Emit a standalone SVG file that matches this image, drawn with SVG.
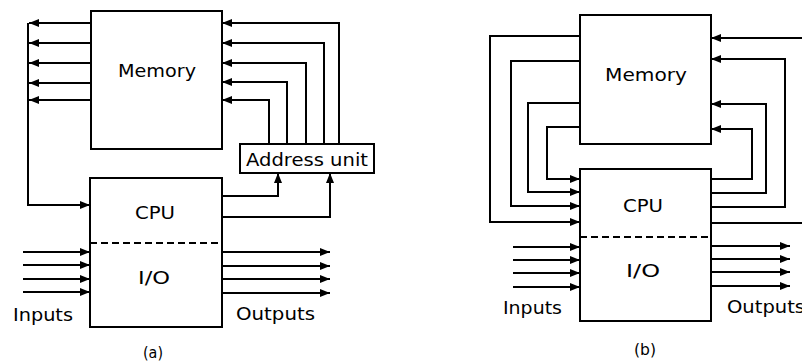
<svg xmlns="http://www.w3.org/2000/svg" width="802" height="364" viewBox="0 0 802 364">
<style>
.box{fill:#fff;stroke:#000;stroke-width:2}
.dash{stroke:#000;stroke-width:2;stroke-dasharray:7 4;fill:none}
.c path{fill:none;stroke:#000;stroke-width:2}
.c .a{marker-end:url(#ah)}
text{font-family:"DejaVu Sans","Liberation Sans",sans-serif;font-size:17px;fill:#000}
.cap{font-size:15px}
</style>
<defs>
<marker id="ah" viewBox="0 0 10 8" refX="10" refY="4" markerWidth="10" markerHeight="8" markerUnits="userSpaceOnUse" orient="auto">
<path d="M0,0 L10,4 L0,8 z" fill="#000"/>
</marker>
</defs>
<g id="a-memory"><rect class="box" x="91" y="11" width="131" height="138"/><text x="118" y="77" textLength="78" lengthAdjust="spacingAndGlyphs">Memory</text></g>
<g id="a-cpu"><rect class="box" x="90" y="178" width="132" height="149"/><line class="dash" x1="90" y1="243" x2="222" y2="243"/><text x="135" y="219" textLength="40" lengthAdjust="spacingAndGlyphs">CPU</text><text x="138" y="284" textLength="32" lengthAdjust="spacingAndGlyphs">I/O</text></g>
<g id="a-address"><rect class="box" x="240" y="144" width="134" height="29"/><text x="246" y="166" textLength="122" lengthAdjust="spacingAndGlyphs">Address unit</text></g>
<g id="a-labels"><text x="13" y="321" textLength="60" lengthAdjust="spacingAndGlyphs">Inputs</text><text x="236" y="320" textLength="79" lengthAdjust="spacingAndGlyphs">Outputs</text><text class="cap" x="143" y="358" textLength="20" lengthAdjust="spacingAndGlyphs">(a)</text></g>
<g id="b-memory"><rect class="box" x="580" y="15" width="131" height="129"/><text x="605" y="81" textLength="82" lengthAdjust="spacingAndGlyphs">Memory</text></g>
<g id="b-cpu"><rect class="box" x="580" y="169" width="131" height="152"/><line class="dash" x1="580" y1="237" x2="711" y2="237"/><text x="623" y="212" textLength="40" lengthAdjust="spacingAndGlyphs">CPU</text><text x="626" y="277" textLength="34" lengthAdjust="spacingAndGlyphs">I/O</text></g>
<g id="b-labels"><text x="503" y="314" textLength="59" lengthAdjust="spacingAndGlyphs">Inputs</text><text x="727" y="313" textLength="78" lengthAdjust="spacingAndGlyphs">Outputs</text><text class="cap" x="634" y="355" textLength="22" lengthAdjust="spacingAndGlyphs">(b)</text></g>
<g id="connectors" class="c">
<path class="a" d="M91,23 H29"/><path class="a" d="M91,43 H29"/><path class="a" d="M91,63 H29"/><path class="a" d="M91,83 H29"/><path class="a" d="M91,100 H29"/>
<path class="a" d="M28,23 V205 H90"/>
<path class="a" d="M222,196 H278 V173"/><path class="a" d="M222,217 H330 V173"/>
<path class="a" d="M269,144 V100 H222"/><path class="a" d="M287,144 V82 H222"/><path class="a" d="M306,144 V63 H222"/><path class="a" d="M324,144 V43 H222"/><path class="a" d="M339,144 V23 H222"/>
<path class="a" d="M23,252 H90"/><path class="a" d="M23,265 H90"/><path class="a" d="M23,279 H90"/><path class="a" d="M23,292 H90"/>
<path class="a" d="M222,252 H330"/><path class="a" d="M222,266 H330"/><path class="a" d="M222,279 H330"/><path class="a" d="M222,293 H330"/>
<path class="a" d="M580,36 H490 V222 H580"/><path class="a" d="M580,61 H511 V206 H580"/><path class="a" d="M580,103 H528 V192 H580"/><path class="a" d="M580,127 H547 V179 H580"/>
<path class="a" d="M711,179 H752 V129 H711"/><path class="a" d="M711,193 H766 V104 H711"/><path class="a" d="M711,207 H785 V59 H711"/><path class="a" d="M711,223 H808 V38 H711"/>
<path class="a" d="M513,247 H580"/><path class="a" d="M513,260 H580"/><path class="a" d="M513,273 H580"/><path class="a" d="M513,287 H580"/>
<path class="a" d="M711,246 H790"/><path class="a" d="M711,259 H790"/><path class="a" d="M711,272 H790"/><path class="a" d="M711,286 H790"/>
</g>
</svg>
